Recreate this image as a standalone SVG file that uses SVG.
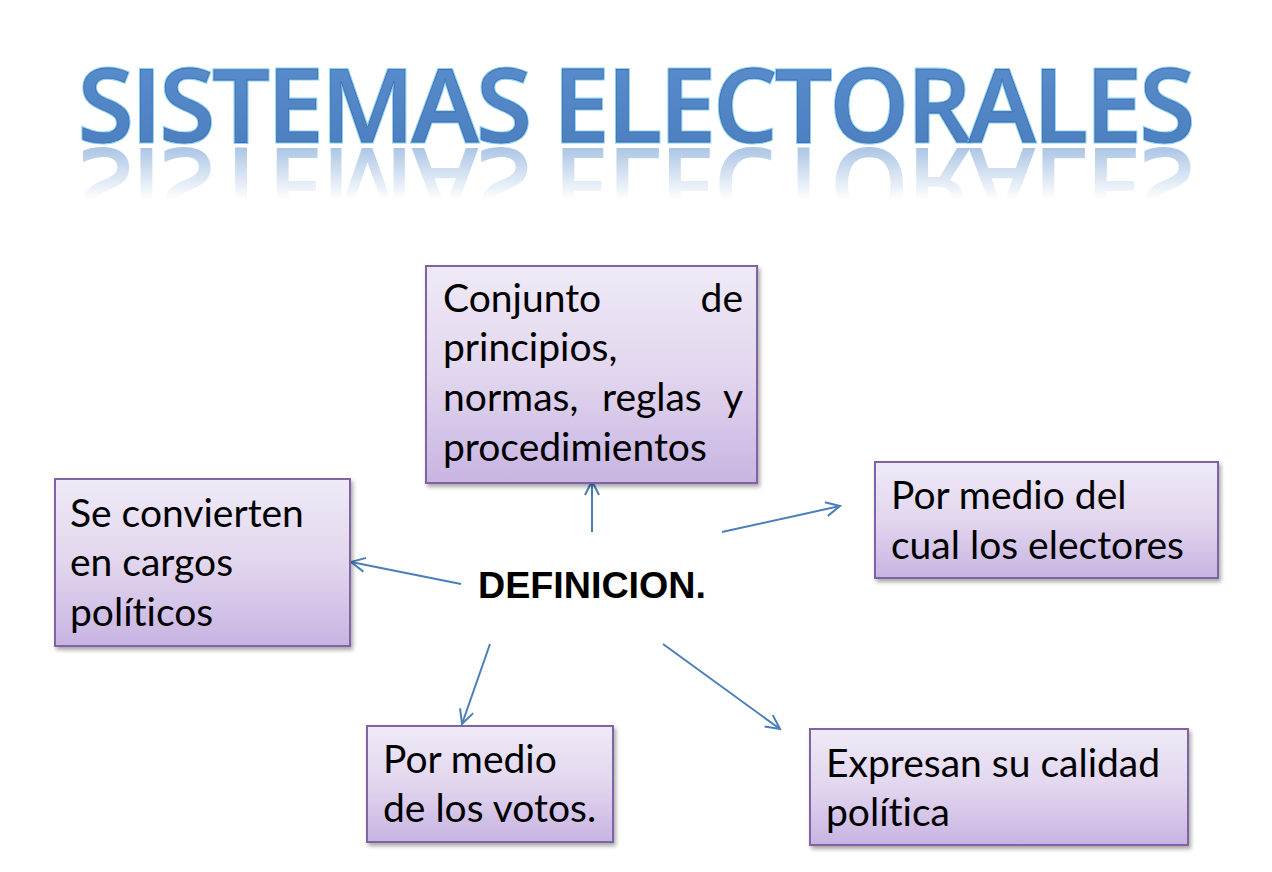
<svg xmlns="http://www.w3.org/2000/svg" width="1272" height="872" viewBox="0 0 1272 872">
<style>
.box{stroke:#8064a2;stroke-width:2;fill:url(#boxg);filter:url(#sh)}
.t{font-family:"Lato","Open Sans","Liberation Sans",sans-serif;font-size:39px;fill:#000;font-variant-ligatures:none}
.title{font-family:"Open Sans","Liberation Sans",sans-serif;font-weight:600;font-size:101px}
.con{stroke:#4a7ebb;stroke-width:2;fill:none;marker-end:url(#arr)}
</style>
<defs>
<linearGradient id="boxg" x1="0" y1="0" x2="0" y2="1">
<stop offset="0" stop-color="#efeaf7"/>
<stop offset="0.5" stop-color="#e2d6ee"/>
<stop offset="1" stop-color="#c8b4e2"/>
</linearGradient>
<linearGradient id="tg" x1="0" y1="0" x2="0" y2="1">
<stop offset="0" stop-color="#5b90cf"/>
<stop offset="1" stop-color="#4a7cbc"/>
</linearGradient>
<linearGradient id="fadeu" gradientUnits="userSpaceOnUse" x1="0" y1="145" x2="0" y2="200">
<stop offset="0" stop-color="#fff" stop-opacity="0.6"/>
<stop offset="1" stop-color="#fff" stop-opacity="0"/>
</linearGradient>
<mask id="refm" maskUnits="userSpaceOnUse" x="0" y="140" width="1272" height="70">
<rect x="0" y="140" width="1272" height="70" fill="url(#fadeu)"/>
</mask>
<filter id="sh" x="-5%" y="-5%" width="115%" height="120%">
<feGaussianBlur in="SourceAlpha" stdDeviation="2"/>
<feOffset dx="2" dy="3" result="b"/>
<feComponentTransfer><feFuncA type="linear" slope="0.35"/></feComponentTransfer>
<feMerge><feMergeNode/><feMergeNode in="SourceGraphic"/></feMerge>
</filter>
<marker id="arr" viewBox="0 0 20 20" refX="18" refY="10" markerWidth="20" markerHeight="20" markerUnits="userSpaceOnUse" orient="auto">
<polyline points="4,3 18,10 4,17" fill="none" stroke="#4a7ebb" stroke-width="2"/>
</marker>
</defs>

<g id="title">
<g mask="url(#refm)">
<text class="title" x="78" y="-148" transform="scale(1,-1)" textLength="1117" lengthAdjust="spacing" fill="#6d9bd1">SISTEMAS ELECTORALES</text>
</g>
<text class="title" x="78" y="142" textLength="1117" lengthAdjust="spacing" fill="url(#tg)" stroke="#8fd0f5" stroke-width="3" paint-order="stroke">SISTEMAS ELECTORALES</text>
<text class="title" x="78" y="142" textLength="1117" lengthAdjust="spacing" fill="none" stroke="#3e6fae" stroke-width="0.8">SISTEMAS ELECTORALES</text>
</g>

<g id="connectors">
<line class="con" x1="592" y1="532" x2="592" y2="481"/>
<line class="con" x1="722" y1="532" x2="840" y2="506"/>
<line class="con" x1="461" y1="584" x2="351" y2="562"/>
<line class="con" x1="490" y1="644" x2="462" y2="724"/>
<line class="con" x1="663" y1="644" x2="780" y2="729"/>
</g>

<g id="center">
<text x="478" y="598" font-family="Liberation Sans,Arial,sans-serif" font-weight="bold" font-size="37" textLength="228" lengthAdjust="spacingAndGlyphs">DEFINICION.</text>
</g>

<g id="node-top">
<rect class="box" x="426" y="266" width="331" height="217"/>
<text class="t" x="443" y="312">Conjunto</text>
<text class="t" x="743" y="312" text-anchor="end">de</text>
<text class="t" x="443" y="361">principios,</text>
<text class="t" x="443" y="411">normas,</text>
<text class="t" x="602" y="411">reglas</text>
<text class="t" x="743" y="411" text-anchor="end">y</text>
<text class="t" x="443" y="461">procedimientos</text>
</g>

<g id="node-left">
<rect class="box" x="55" y="479" width="295" height="167"/>
<text class="t" x="70" y="527">Se convierten</text>
<text class="t" x="70" y="576">en cargos</text>
<text class="t" x="70" y="626">políticos</text>
</g>

<g id="node-right">
<rect class="box" x="875" y="462" width="343" height="116"/>
<text class="t" x="891" y="509">Por medio del</text>
<text class="t" x="891" y="559">cual los electores</text>
</g>

<g id="node-bottom-left">
<rect class="box" x="367" y="726" width="246" height="116"/>
<text class="t" x="383" y="773">Por medio</text>
<text class="t" x="383" y="822">de los votos.</text>
</g>

<g id="node-bottom-right">
<rect class="box" x="810" y="729" width="378" height="116"/>
<text class="t" x="826" y="777">Expresan su calidad</text>
<text class="t" x="826" y="826">política</text>
</g>
</svg>
